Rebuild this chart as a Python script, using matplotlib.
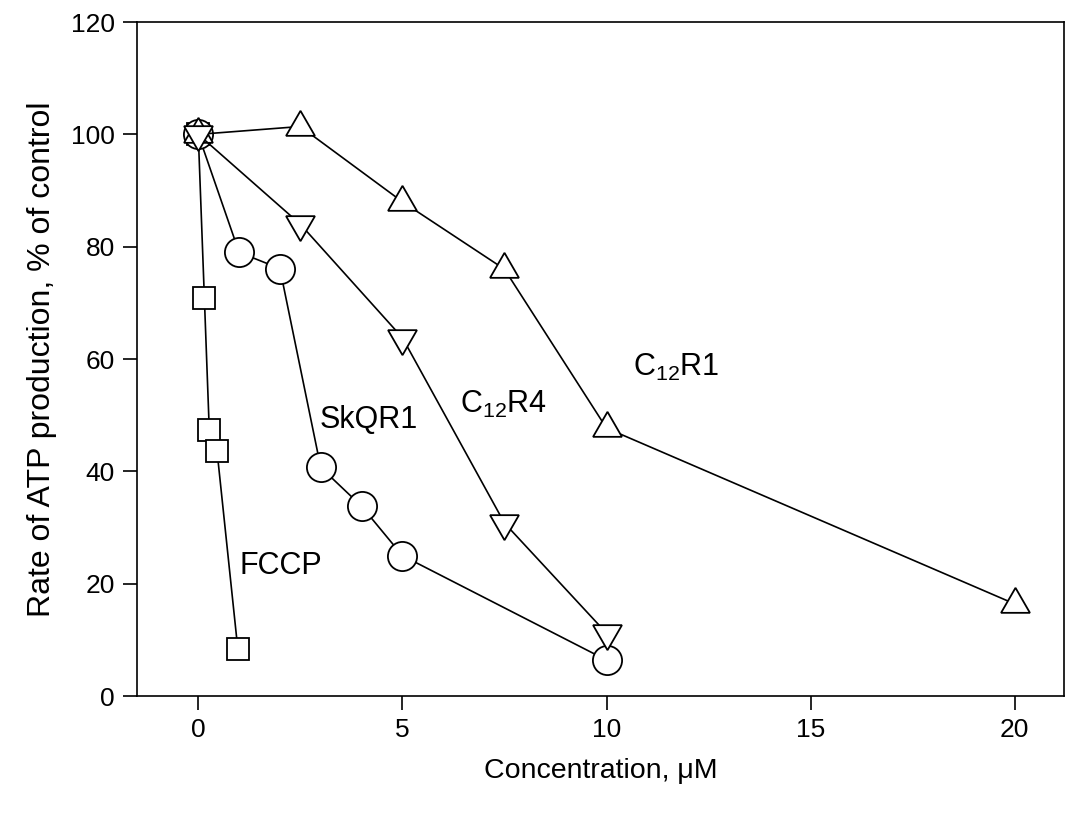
import matplotlib
matplotlib.use('Agg')
import matplotlib.pyplot as plt

plt.rcParams['font.family'] = ['Liberation Sans', 'DejaVu Sans']
plt.rcParams['mathtext.default'] = 'regular'

# data
fccp_x = [0, 0.15, 0.27, 0.46, 0.97]
fccp_y = [100, 70.8, 47.3, 43.6, 8.3]
skq_x = [0, 1, 2, 3, 4, 5, 10]
skq_y = [100, 79, 76.1, 40.7, 33.8, 25.0, 6.4]
r1_x = [0, 2.5, 5, 7.5, 10, 20]
r1_y = [100, 101.4, 88, 76, 47.7, 16.4]
r4_x = [0, 2.5, 5, 7.5, 10]
r4_y = [100, 84, 63.8, 30.8, 11.2]

fig = plt.figure(figsize=(10.91, 8.16), dpi=100)
ax = fig.add_axes([0.1256, 0.147, 0.8494, 0.826])

lw = 1.2
mew = 1.3
ax.plot(fccp_x, fccp_y, color='black', lw=lw, marker='s', ms=15.5,
        mfc='white', mec='black', mew=mew, zorder=2)
ax.plot(skq_x, skq_y, color='black', lw=lw, marker='o', ms=21,
        mfc='white', mec='black', mew=mew, zorder=3)
ax.plot(r1_x, r1_y, color='black', lw=lw, marker=(3, 0, 0), ms=24,
        mfc='white', mec='black', mew=mew, zorder=4)
ax.plot(r4_x, r4_y, color='black', lw=lw, marker=(3, 0, 180), ms=24,
        mfc='white', mec='black', mew=mew, zorder=5)

fs = 22
ax.text(1.02, 21.7, 'FCCP', fontsize=fs, ha='left', va='baseline')
ax.text(2.98, 47.8, 'SkQR1', fontsize=fs, ha='left', va='baseline')
ax.text(6.41, 50.4, 'C$_{12}$R4', fontsize=fs, ha='left', va='baseline')
ax.text(10.66, 57.0, 'C$_{12}$R1', fontsize=fs, ha='left', va='baseline')

ax.set_xlim(-1.5, 21.2)
ax.set_ylim(0, 120)
ax.set_xticks([0, 5, 10, 15, 20])
ax.set_yticks([0, 20, 40, 60, 80, 100, 120])
ax.tick_params(direction='out', length=10, width=1.2, labelsize=19, pad=6)
for s in ax.spines.values():
    s.set_linewidth(1.2)

ax.set_xlabel('Concentration, μM', fontsize=20.5, labelpad=11)
ax.set_ylabel('Rate of ATP production, % of control', fontsize=23, labelpad=10)

fig.savefig('out.png', dpi=100)
